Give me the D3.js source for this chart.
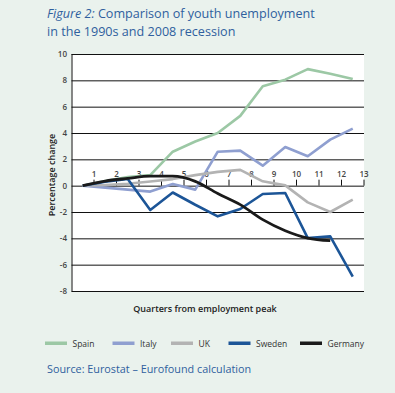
<!DOCTYPE html>
<html><head><meta charset="utf-8">
<script src="https://cdn.jsdelivr.net/npm/d3@7"></script>
<style>
html,body{margin:0;padding:0;background:#eaf2ed;}
svg{display:block;}
text{font-family:"Open Sans","Noto Sans",sans-serif;}
</style></head>
<body>
<svg id="c" width="395" height="393"></svg>
<script>
const quarters = [0.5,1.5,2.5,3.5,4.5,5.5,6.5,7.5,8.5,9.5,10.5,11.5,12.5];
const spain   = [0, 0.35, 0.65, 0.8, 2.58, 3.35, 4.0, 5.3, 7.55, 8.05, 8.85, 8.5, 8.1];
const italy   = [0, -0.15, -0.3, -0.45, 0.13, -0.3, 2.58, 2.66, 1.52, 2.94, 2.23, 3.5, 4.33];
const uk      = [0, 0.05, 0.15, 0.32, 0.5, 0.8, 1.05, 1.2, 0.33, 0.02, -1.27, -2.0, -1.06];
const sweden  = [0, 0.3, 0.5, -1.85, -0.52, -1.45, -2.33, -1.77, -0.63, -0.56, -3.98, -3.85, -6.9];
const germany = [0, 0.35, 0.55, 0.72, 0.72, 0.33, -0.6, -1.44, -2.58, -3.42, -3.98, -4.18];
const seriesNames = ["Spain","Italy","UK","Sweden","Germany"];
const seriesColors = ["#9cc8a5","#8f9fd0","#b3b3b3","#1c5597","#1a1a1a"];
const xTicks = [1,2,3,4,5,6,7,8,9,10,11,12,13];
const yTicks = [-8,-6,-4,-2,0,2,4,6,8,10];

const svg = d3.select("#c");
const x = d3.scaleLinear().domain([0,13]).range([71.5,364]);
const y = d3.scaleLinear().domain([-8,10]).range([291,54]);

// title
const t = svg.append("text").attr("x",47).attr("y",18).attr("fill","#2f5f9e").attr("font-size",12.6);
t.append("tspan").attr("font-style","italic").text("Figure 2:");
t.append("tspan").text(" Comparison of youth unemployment");
svg.append("text").attr("x",47).attr("y",36).attr("fill","#2f5f9e").attr("font-size",12.6).text("in the 1990s and 2008 recession");

// plot bg
svg.append("rect").attr("x",x(0)).attr("y",y(10)).attr("width",x(13)-x(0)).attr("height",y(-8)-y(10)).attr("fill","#ffffff");

// grid
svg.append("g").selectAll("line").data(yTicks).join("line")
  .attr("x1",x(0)).attr("x2",x(13)).attr("y1",d=>y(d)+0.5).attr("y2",d=>y(d)+0.5)
  .attr("stroke","#111").attr("stroke-width",1);
svg.append("line").attr("x1",x(0)+0.5).attr("x2",x(0)+0.5).attr("y1",y(10)).attr("y2",y(-8)+0.5).attr("stroke","#111");

// y labels
svg.append("g").selectAll("text").data(yTicks).join("text")
  .attr("x",67).attr("y",d=>y(d)+3).attr("text-anchor","end").attr("font-size",8).attr("font-weight",600).attr("fill","#444").text(d=>d);

// x axis ticks at zero
const xa = svg.append("g");
xa.selectAll("line").data(xTicks).join("line")
  .attr("x1",d=>x(d)).attr("x2",d=>x(d)).attr("y1",y(0)-6).attr("y2",y(0)).attr("stroke","#111");
xa.selectAll("text").data(xTicks).join("text")
  .attr("x",d=>x(d)).attr("y",y(0)-9).attr("text-anchor","middle").attr("font-size",8).attr("font-weight",600).attr("fill","#444").text(d=>d);

// lines
const all = [spain, italy, uk, sweden, germany];
all.forEach((vals,i)=>{
  const pts = vals.map((v,j)=>[quarters[j], v]);
  const gen = d3.line().x(d=>x(d[0])).y(d=>y(d[1]))
    .curve(i===4 ? d3.curveMonotoneX : d3.curveLinear);
  svg.append("path").attr("d",gen(pts)).attr("fill","none")
    .attr("stroke",seriesColors[i]).attr("stroke-width", i===4?2.8:2.6)
    .attr("stroke-linejoin","round");
});

// axis titles
svg.append("text").attr("transform","translate(55,175) rotate(-90)").attr("text-anchor","middle")
  .attr("font-size",9).attr("font-weight",600).attr("fill","#222").text("Percentage change");
svg.append("text").attr("x",205).attr("y",312).attr("text-anchor","middle")
  .attr("font-size",9).attr("font-weight",600).attr("fill","#222").text("Quarters from employment peak");

// legend
const legX = [45,112.5,171,228.5,300];
const lg = svg.append("g");
seriesNames.forEach((n,i)=>{
  lg.append("rect").attr("x",legX[i]).attr("y",341.5).attr("width",22).attr("height",3.5).attr("fill",seriesColors[i]);
  lg.append("text").attr("x",legX[i]+27.5).attr("y",346.5).attr("font-size",8.5).attr("fill","#333").text(n);
});

// source
svg.append("text").attr("x",47).attr("y",373).attr("font-size",10.8).attr("fill","#2f5f9e").text("Source: Eurostat \u2013 Eurofound calculation");
</script>
</body></html>
